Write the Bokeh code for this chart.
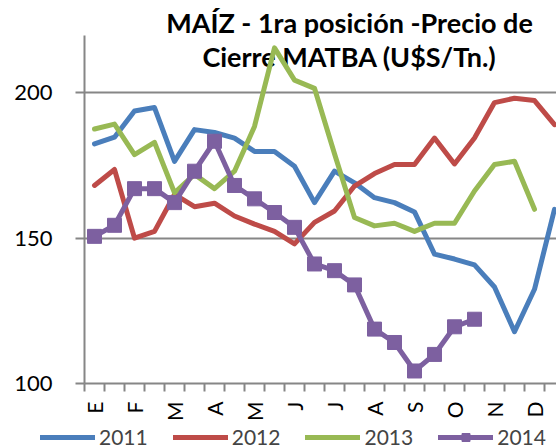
import math
from bokeh.plotting import figure
from bokeh.layouts import column
from bokeh.models import (Range1d, FixedTicker, Legend, LegendItem, Label)
from bokeh.embed import file_html
from bokeh.resources import INLINE

# ---- data ----
month_labels = ["E", "F", "M", "A", "M", "J", "J", "A", "S", "O", "N", "D"]
y_ticks = [100, 150, 200]

v2011 = [182.4, 184.7, 193.7, 194.9, 176.4, 187.3, 186.3, 184.4, 179.8, 179.8,
         174.7, 162.2, 173.0, 169.0, 163.9, 162.2, 159.0, 144.5, 142.8, 140.8,
         133.2, 117.8, 132.4, 159.9]
v2012 = [168.1, 173.6, 150.0, 152.3, 165.0, 160.8, 162.0, 157.6, 154.8, 152.3,
         148.0, 155.4, 159.3, 167.9, 172.2, 175.3, 175.3, 184.4, 175.5, 184.4,
         196.6, 198.1, 197.3, 189.0]
v2013 = [187.5, 189.2, 178.7, 182.9, 165.6, 171.9, 167.0, 173.0, 188.4, 215.4,
         204.3, 201.5, 179.0, 157.1, 154.2, 155.1, 152.3, 155.1, 155.1, 166.2,
         175.3, 176.4, 159.9]
v2014 = [150.6, 154.4, 167.0, 167.0, 162.2, 173.0, 183.3, 168.1, 163.5, 158.8,
         153.7, 141.1, 138.8, 133.9, 118.7, 114.1, 104.3, 110.0, 119.5, 122.1]

series_names = ["2011", "2012", "2013", "2014"]
colors = ["#4A7EBB", "#BE4B48", "#98B954", "#7D60A0"]
title_line1 = "MAÍZ - 1ra posición -Precio de"
title_line2 = "Cierre MATBA (U$S/Tn.)"

FONT = "Lato"
GRID = "#868686"
Y_AXIS_TOP = 219.7

p = figure(width=556, height=423, output_backend="svg", toolbar_location=None,
           x_range=Range1d(0, 23.6), y_range=Range1d(100, 231.7),
           min_border_left=84, min_border_right=0, min_border_top=0,
           min_border_bottom=39)
p.outline_line_color = None
p.background_fill_color = "white"
p.border_fill_color = "white"

def xs(vals):
    return [i + 0.5 for i in range(len(vals))]

for name, vals, col in zip(series_names, [v2011, v2012, v2013, v2014], colors):
    p.line(xs(vals), vals, line_color=col, line_width=5, line_join="round",
           line_cap="round")
    if name == "2014":
        p.scatter(xs(vals), vals, marker="square", size=14, fill_color=col,
                  line_color=col)

# x axis
n_cat = len(v2011)
p.xaxis.ticker = FixedTicker(ticks=[2 * k + 0.5 for k in range(len(month_labels))],
                             minor_ticks=list(range(n_cat + 1)))
p.xaxis.major_label_overrides = {2 * k + 0.5: m for k, m in enumerate(month_labels)}
p.xaxis.major_label_orientation = math.pi / 2
p.xaxis.major_tick_out = 8
p.xaxis.major_tick_in = 0
p.xaxis.major_tick_line_alpha = 0
p.xaxis.minor_tick_out = 8
p.xaxis.minor_tick_in = 0
p.xaxis.minor_tick_line_color = GRID
p.xaxis.minor_tick_line_width = 2
p.xaxis.axis_line_color = GRID
p.xaxis.axis_line_width = 2
p.xaxis.major_label_standoff = 10
p.xaxis.major_label_text_font = FONT
p.xaxis.major_label_text_font_size = "21px"
p.xaxis.major_label_text_color = "black"
p.xgrid.visible = False

# y axis
p.yaxis.ticker = FixedTicker(ticks=y_ticks)
p.yaxis.bounds = (100, Y_AXIS_TOP)
p.yaxis.major_tick_out = 9
p.yaxis.major_tick_in = 0
p.yaxis.major_tick_line_color = GRID
p.yaxis.major_tick_line_width = 2
p.yaxis.minor_tick_line_color = None
p.yaxis.axis_line_color = GRID
p.yaxis.axis_line_width = 2
p.yaxis.major_label_standoff = 23
p.yaxis.major_label_text_font = FONT
p.yaxis.major_label_text_font_size = "22px"
p.yaxis.major_label_text_color = "black"
p.ygrid.grid_line_color = GRID
p.ygrid.grid_line_width = 2

# title (two lines, overlapping the plot area like the original; lines pass over it)
for txt, yv in [(title_line1, 224.1), (title_line2, 212.4)]:
    p.add_layout(Label(x=13.25, y=yv, text=txt, text_font=FONT,
                       text_font_style="bold", text_font_size="27px",
                       text_align="center", text_baseline="alphabetic",
                       text_color="black", level="underlay"))

# legend strip (separate small figure so it can sit below the axis labels)
lf = figure(width=556, height=22, output_backend="svg", toolbar_location=None,
            x_range=Range1d(0, 556), y_range=Range1d(0, 22),
            x_axis_type=None, y_axis_type=None,
            min_border_left=0, min_border_right=0, min_border_top=0,
            min_border_bottom=0)
lf.outline_line_color = None
lf.grid.visible = False
lf.background_fill_color = "white"
lf.border_fill_color = "white"
if "frame_align" in lf.properties():
    lf.frame_align = False
    p.frame_align = False

nan = float("nan")
items = []
for name, col in zip(series_names, colors):
    rs = [lf.line(x=[nan], y=[nan], line_color=col, line_width=5, line_cap="round")]
    if name == "2014":
        rs.append(lf.scatter(x=[nan], y=[nan], marker="square", size=14,
                             fill_color=col, line_color=col))
    items.append(LegendItem(label=name, renderers=rs))

legend = Legend(items=items, orientation="horizontal", location=(40, -4),
                glyph_width=55, glyph_height=20, label_standoff=4, spacing=25,
                padding=0, margin=0, border_line_alpha=0, background_fill_alpha=0,
                label_text_font=FONT, label_text_font_size="21px", label_height=20)
lf.add_layout(legend)

layout = column(p, lf, spacing=0)
open("out.html", "w").write(file_html(layout, INLINE))
